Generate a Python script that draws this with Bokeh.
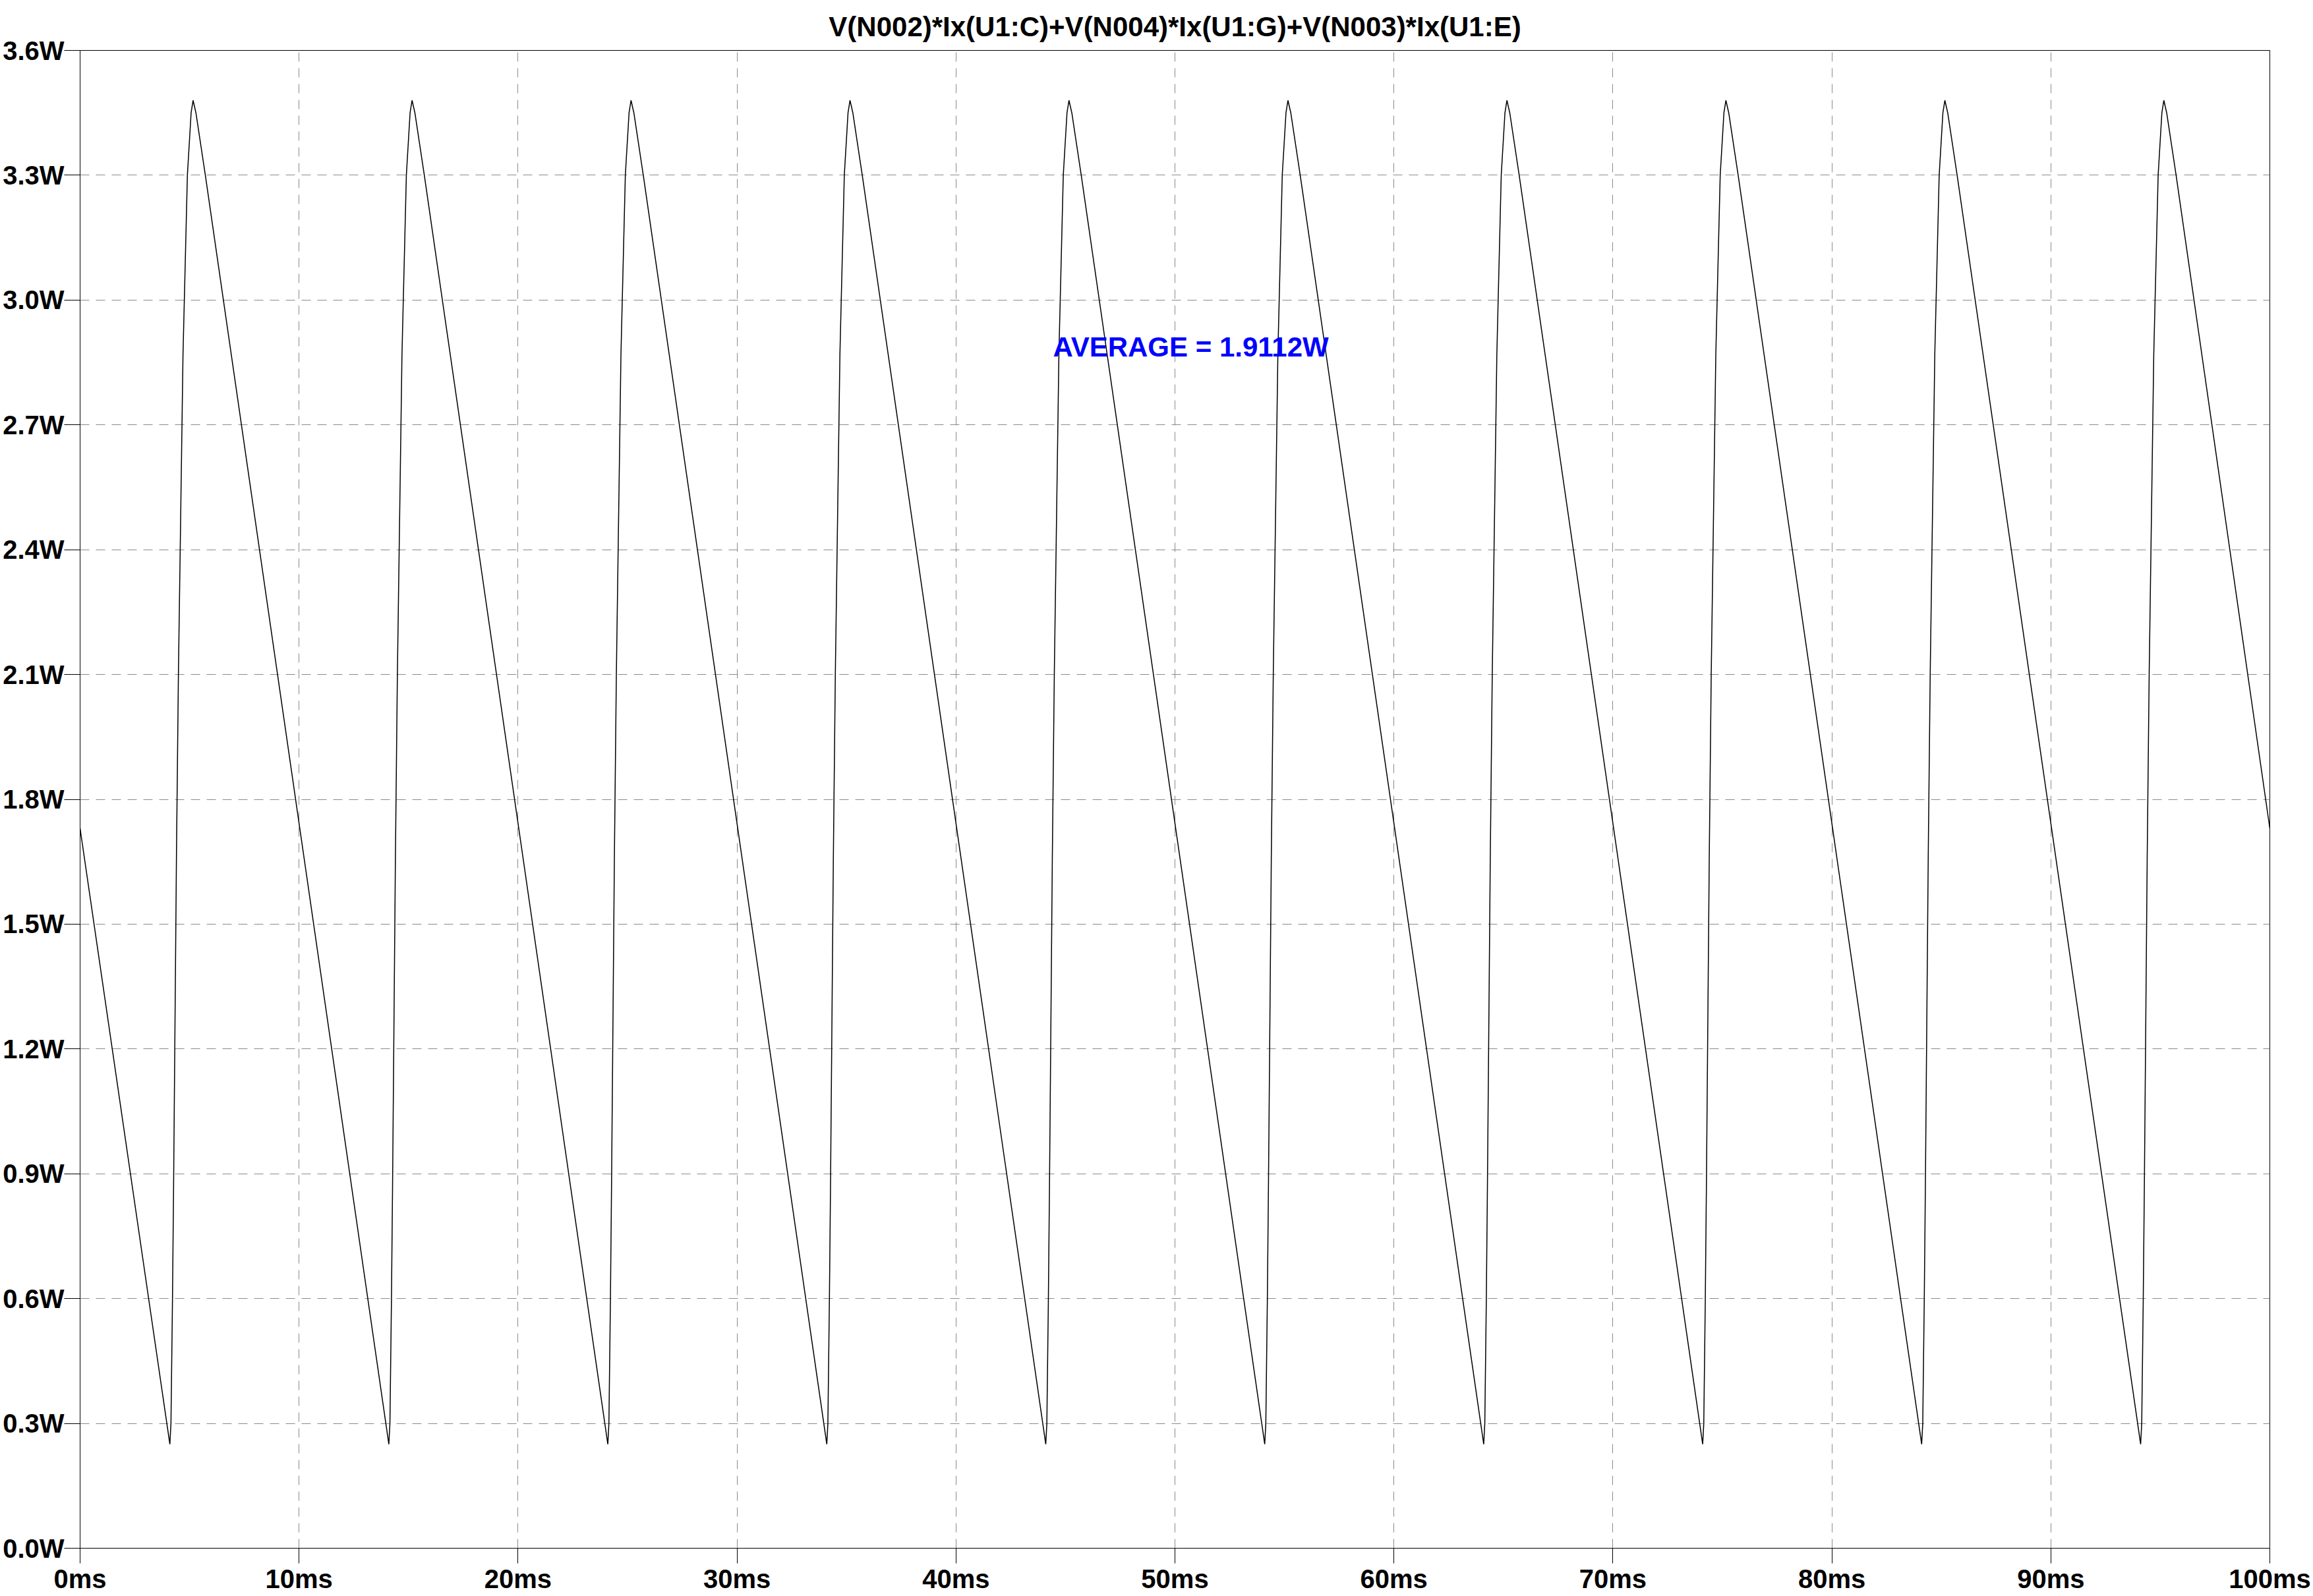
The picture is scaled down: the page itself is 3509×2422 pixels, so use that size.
from bokeh.plotting import figure
from bokeh.models import Range1d, FixedTicker, Label
from bokeh.embed import file_html
from bokeh.resources import INLINE

# ---------------- data ----------------
title_text = "V(N002)*Ix(U1:C)+V(N004)*Ix(U1:G)+V(N003)*Ix(U1:E)"
avg_text = "AVERAGE = 1.9112W"

x_ticks = [0, 10, 20, 30, 40, 50, 60, 70, 80, 90, 100]
x_tick_labels = ["0ms", "10ms", "20ms", "30ms", "40ms", "50ms",
                 "60ms", "70ms", "80ms", "90ms", "100ms"]
y_ticks = [0.0, 0.3, 0.6, 0.9, 1.2, 1.5, 1.8, 2.1, 2.4, 2.7, 3.0, 3.3, 3.6]
y_tick_labels = ["0.0W", "0.3W", "0.6W", "0.9W", "1.2W", "1.5W", "1.8W",
                 "2.1W", "2.4W", "2.7W", "3.0W", "3.3W", "3.6W"]

# waveform vertices (time in ms, power in W)
time_ms = [
    0.00,
    4.10, 4.15, 4.22, 4.27, 4.40, 4.49, 4.70, 4.90, 5.07, 5.16, 5.29, 5.72,
    14.10, 14.15, 14.22, 14.27, 14.40, 14.49, 14.70, 14.90, 15.07, 15.16, 15.29, 15.72,
    24.10, 24.15, 24.22, 24.27, 24.40, 24.49, 24.70, 24.90, 25.07, 25.16, 25.29, 25.72,
    34.10, 34.15, 34.22, 34.27, 34.40, 34.49, 34.70, 34.90, 35.07, 35.16, 35.29, 35.72,
    44.10, 44.15, 44.22, 44.27, 44.40, 44.49, 44.70, 44.90, 45.07, 45.16, 45.29, 45.72,
    54.10, 54.15, 54.22, 54.27, 54.40, 54.49, 54.70, 54.90, 55.07, 55.16, 55.29, 55.72,
    64.10, 64.15, 64.22, 64.27, 64.40, 64.49, 64.70, 64.90, 65.07, 65.16, 65.29, 65.72,
    74.10, 74.15, 74.22, 74.27, 74.40, 74.49, 74.70, 74.90, 75.07, 75.16, 75.29, 75.72,
    84.10, 84.15, 84.22, 84.27, 84.40, 84.49, 84.70, 84.90, 85.07, 85.16, 85.29, 85.72,
    94.10, 94.15, 94.22, 94.27, 94.40, 94.49, 94.70, 94.90, 95.07, 95.16, 95.29, 95.72,
    100.00,
]
power_w = [
    1.73,
    0.25, 0.30, 0.60, 0.87, 1.66, 2.10, 2.87, 3.30, 3.45, 3.48, 3.45, 3.30,
    0.25, 0.30, 0.60, 0.87, 1.66, 2.10, 2.87, 3.30, 3.45, 3.48, 3.45, 3.30,
    0.25, 0.30, 0.60, 0.87, 1.66, 2.10, 2.87, 3.30, 3.45, 3.48, 3.45, 3.30,
    0.25, 0.30, 0.60, 0.87, 1.66, 2.10, 2.87, 3.30, 3.45, 3.48, 3.45, 3.30,
    0.25, 0.30, 0.60, 0.87, 1.66, 2.10, 2.87, 3.30, 3.45, 3.48, 3.45, 3.30,
    0.25, 0.30, 0.60, 0.87, 1.66, 2.10, 2.87, 3.30, 3.45, 3.48, 3.45, 3.30,
    0.25, 0.30, 0.60, 0.87, 1.66, 2.10, 2.87, 3.30, 3.45, 3.48, 3.45, 3.30,
    0.25, 0.30, 0.60, 0.87, 1.66, 2.10, 2.87, 3.30, 3.45, 3.48, 3.45, 3.30,
    0.25, 0.30, 0.60, 0.87, 1.66, 2.10, 2.87, 3.30, 3.45, 3.48, 3.45, 3.30,
    0.25, 0.30, 0.60, 0.87, 1.66, 2.10, 2.87, 3.30, 3.45, 3.48, 3.45, 3.30,
    1.73,
]

# annotation anchor (data units)
avg_x_ms = 44.43
avg_y_w = 2.887

# ---------------- figure ----------------
p = figure(width=3509, height=2422, output_backend="svg", toolbar_location=None,
           x_range=Range1d(0, 100), y_range=Range1d(0, 3.6),
           min_border_left=121, min_border_right=66,
           min_border_top=76, min_border_bottom=73,
           background_fill_color="white", border_fill_color="white")

p.title.text = title_text
p.title.align = "center"
p.title.vertical_align = "top"
p.title.text_font = "Liberation Sans"
p.title.text_font_size = "42px"
p.title.text_font_style = "bold"
p.title.text_color = "black"
p.title.standoff = 22

p.outline_line_color = "black"
p.outline_line_width = 1
p.outline_line_alpha = 1

for ax, ticks, labels in ((p.xaxis, x_ticks, x_tick_labels), (p.yaxis, y_ticks, y_tick_labels)):
    ax.ticker = FixedTicker(ticks=ticks)
    ax.major_label_overrides = {t: l for t, l in zip(ticks, labels)}
    ax.major_tick_out = 23
    ax.major_tick_in = 0
    ax.minor_tick_out = 0
    ax.minor_tick_in = 0
    ax.axis_line_color = "black"
    ax.major_tick_line_color = "black"
    ax.major_label_text_font = "Liberation Sans"
    ax.major_label_text_font_style = "bold"
    ax.major_label_text_font_size = "40px"
    ax.major_label_text_color = "black"

p.xaxis.major_label_standoff = 1
p.yaxis.major_label_standoff = 0
p.yaxis.major_tick_out = 24

for g in (p.xgrid, p.ygrid):
    g.grid_line_color = "#8a8a8a"
    g.grid_line_dash = "14 10"
    g.grid_line_width = 1

p.line(time_ms, power_w, line_color="black", line_width=1.5)

p.add_layout(Label(x=avg_x_ms, y=avg_y_w, text=avg_text, text_color="#0000FF",
                   text_font="Liberation Sans", text_font_style="bold",
                   text_font_size="42px", text_baseline="middle",
                   text_align="left"))

open("out.html", "w").write(file_html(p, INLINE))
